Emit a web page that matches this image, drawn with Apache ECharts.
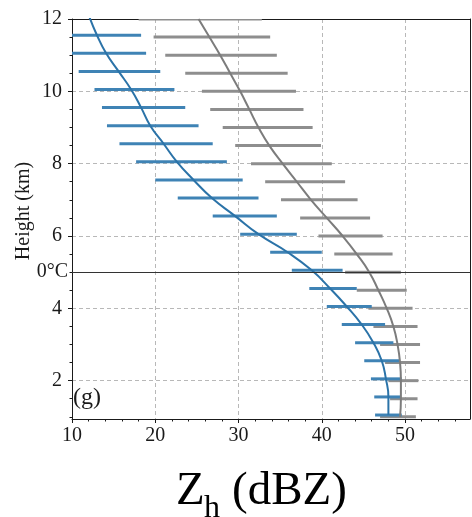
<!DOCTYPE html>
<html>
<head>
<meta charset="utf-8">
<script src="https://cdn.jsdelivr.net/npm/echarts@6/dist/echarts.min.js"></script>
<style>
html, body { margin: 0; padding: 0; background: #fff; }
#chart { width: 472px; height: 517px; }
</style>
</head>
<body>
<div id="chart"></div>
<script>
// height levels (km); blue profile is drawn a hair higher so bars don't overlap
const heights = [12, 11.5, 11, 10.5, 10, 9.5, 9, 8.5, 8, 7.5, 7, 6.5, 6, 5.5, 5, 4.5, 4, 3.5, 3, 2.5, 2, 1.5, 1];
const blueShift = 0.05;

const grayMean = [25.2, 26.5, 27.8, 29.0, 30.2, 31.3, 32.4, 33.7, 35.3, 37.0, 38.7, 40.6, 42.5, 44.2, 45.7, 46.8, 47.8, 48.6, 49.1, 49.4, 49.5, 49.5, 49.4];
const grayLow  = [18.0, 19.8, 21.2, 23.6, 25.6, 26.6, 28.1, 29.6, 31.5, 33.2, 35.1, 37.4, 39.6, 41.5, 42.8, 44.2, 45.6, 46.2, 47.0, 47.6, 48.0, 48.2, 47.0];
const grayHigh = [32.8, 33.8, 34.6, 35.9, 36.9, 37.8, 38.9, 39.9, 41.2, 42.8, 44.3, 45.8, 47.3, 48.5, 49.5, 50.2, 50.9, 51.5, 51.8, 51.8, 51.6, 51.5, 51.3];

const blueMean = [12.1, 13.0, 14.1, 15.6, 17.1, 18.3, 19.4, 21.0, 22.6, 24.6, 26.8, 29.6, 32.4, 35.9, 38.8, 41.0, 43.0, 44.8, 46.2, 47.2, 47.7, 48.0, 48.0];
const blueLow  = [null, 7.7, 9.3, 10.8, 12.7, 13.6, 14.2, 15.7, 17.7, 20.0, 22.7, 26.9, 30.2, 33.8, 36.4, 38.5, 40.6, 42.4, 44.0, 45.1, 45.9, 46.3, 46.4];
const blueHigh = [null, 18.3, 18.9, 20.6, 22.3, 23.6, 25.2, 26.9, 28.6, 30.5, 32.4, 34.6, 37.0, 40.0, 42.5, 44.2, 46.0, 47.6, 48.6, 49.4, 49.6, 49.5, 49.6];

const xMajor = [10, 20, 30, 40, 50];
const xMinor = [12, 14, 16, 18, 22, 24, 26, 28, 32, 34, 36, 38, 42, 44, 46, 48, 52, 54, 56];
const yMajor = [2, 4, 6, 8, 10, 12];
const yMinor = [1, 1.5, 2.5, 3, 3.5, 4.5, 5, 5.5, 6.5, 7, 7.5, 8.5, 9, 9.5, 10.5, 11, 11.5];
const freezingLevel = 5;

const X_MIN = 10, X_MAX = 57.8, Y_MIN = 0.94, Y_MAX = 12;
const SERIF = '"Liberation Serif", "DejaVu Serif", serif';
const INK = '#1a1a1a';
const BLUE_BAR = '#3f83b5', BLUE_LINE = '#2b73a8';
const GRAY_BAR = '#8e8e8e', GRAY_LINE = '#7c7c7c';

function barData(low, high, shift) {
  const out = [];
  heights.forEach(function (h, i) {
    if (low[i] == null || high[i] == null) return;
    out.push([low[i], high[i], h + shift]);
  });
  return out;
}

function lineData(mean, shift) {
  return heights.map(function (h, i) { return [mean[i], h + shift]; });
}

function barRenderer(color) {
  return function (params, api) {
    const a = api.coord([api.value(0), api.value(2)]);
    const b = api.coord([api.value(1), api.value(2)]);
    return {
      type: 'line',
      shape: { x1: a[0], y1: a[1], x2: b[0], y2: b[1] },
      style: { stroke: color, lineWidth: 3 },
    };
  };
}

const baseX = { type: 'value', min: X_MIN, max: X_MAX, gridIndex: 0 };
const baseY = { type: 'value', min: Y_MIN, max: Y_MAX, gridIndex: 0 };

const chart = echarts.init(document.getElementById('chart'), null, { renderer: 'canvas' });
chart.setOption({
  animation: false,
  backgroundColor: '#fff',
  grid: { left: 72, top: 19, width: 398, height: 400 },
  xAxis: [
    Object.assign({}, baseX, {
      position: 'bottom',
      axisLine: { show: true, lineStyle: { color: INK, width: 1 } },
      axisTick: { show: true, length: 4, customValues: xMajor, lineStyle: { color: INK } },
      axisLabel: { customValues: xMajor, margin: 7, fontFamily: SERIF, fontSize: 20, color: INK },
      splitLine: { show: true, lineStyle: { type: [4, 3], color: '#b8b8b8', width: 1 } },
    }),
    Object.assign({}, baseX, {
      position: 'bottom',
      axisLine: { show: false },
      axisTick: { show: true, length: 2.5, customValues: xMinor, lineStyle: { color: INK } },
      axisLabel: { show: false },
      splitLine: { show: false },
    }),
    Object.assign({}, baseX, {
      position: 'top',
      axisLine: { show: true, lineStyle: { color: INK, width: 1 } },
      axisTick: { show: false },
      axisLabel: { show: false },
      splitLine: { show: false },
    }),
  ],
  yAxis: [
    Object.assign({}, baseY, {
      position: 'left',
      axisLine: { show: true, lineStyle: { color: INK, width: 1 } },
      axisTick: { show: true, length: 4, customValues: yMajor, lineStyle: { color: INK } },
      axisLabel: { customValues: yMajor, margin: 10, fontFamily: SERIF, fontSize: 20, color: INK },
      splitLine: { show: true, lineStyle: { type: [4, 3], color: '#b8b8b8', width: 1 } },
    }),
    Object.assign({}, baseY, {
      position: 'left',
      axisLine: { show: false },
      axisTick: { show: true, length: 2.5, customValues: yMinor, lineStyle: { color: INK } },
      axisLabel: {
        customValues: [freezingLevel], margin: 4, fontFamily: SERIF, fontSize: 20, color: INK,
        formatter: function () { return '0°C'; },
      },
      splitLine: { show: false },
    }),
    Object.assign({}, baseY, {
      position: 'right',
      axisLine: { show: true, lineStyle: { color: INK, width: 1 } },
      axisTick: { show: false },
      axisLabel: { show: false },
      splitLine: { show: false },
    }),
  ],
  series: [
    {
      name: 'gray spread', type: 'custom', clip: true,
      xAxisIndex: 0, yAxisIndex: 0,
      encode: { x: [0, 1], y: 2 },
      renderItem: barRenderer(GRAY_BAR),
      data: barData(grayLow, grayHigh, 0),
      z: 2,
    },
    {
      name: 'blue spread', type: 'custom', clip: true,
      xAxisIndex: 0, yAxisIndex: 0,
      encode: { x: [0, 1], y: 2 },
      renderItem: barRenderer(BLUE_BAR),
      data: barData(blueLow, blueHigh, blueShift),
      z: 2,
    },
    {
      name: 'gray mean', type: 'line', xAxisIndex: 0, yAxisIndex: 0,
      data: lineData(grayMean, 0),
      smooth: 0.5, showSymbol: false, clip: true,
      lineStyle: { color: GRAY_LINE, width: 2 },
      z: 3,
      markLine: {
        silent: true, symbol: 'none', label: { show: false },
        lineStyle: { color: '#333', type: 'solid', width: 1.2 },
        data: [{ yAxis: freezingLevel }],
      },
    },
    {
      name: 'blue mean', type: 'line', xAxisIndex: 0, yAxisIndex: 0,
      data: lineData(blueMean, blueShift),
      smooth: 0.5, showSymbol: false, clip: true,
      lineStyle: { color: BLUE_LINE, width: 2 },
      z: 4,
    },
  ],
  graphic: [
    {
      type: 'text', x: 24, y: 211, rotation: Math.PI / 2,
      style: { text: 'Height (km)', font: '20px ' + SERIF, fill: INK, align: 'center', verticalAlign: 'middle' },
    },
    { type: 'text', style: { text: '(g)', x: 73, y: 398, font: '24px ' + SERIF, fill: INK, verticalAlign: 'middle' } },
    { type: 'text', style: { text: 'Z', x: 176, y: 492, font: '47px ' + SERIF, fill: '#000', verticalAlign: 'middle' } },
    { type: 'text', style: { text: 'h', x: 204, y: 509, font: '32px ' + SERIF, fill: '#000', verticalAlign: 'middle' } },
    { type: 'text', style: { text: '(dBZ)', x: 232, y: 492, font: '47px ' + SERIF, fill: '#000', verticalAlign: 'middle' } },
  ],
});
</script>
</body>
</html>
